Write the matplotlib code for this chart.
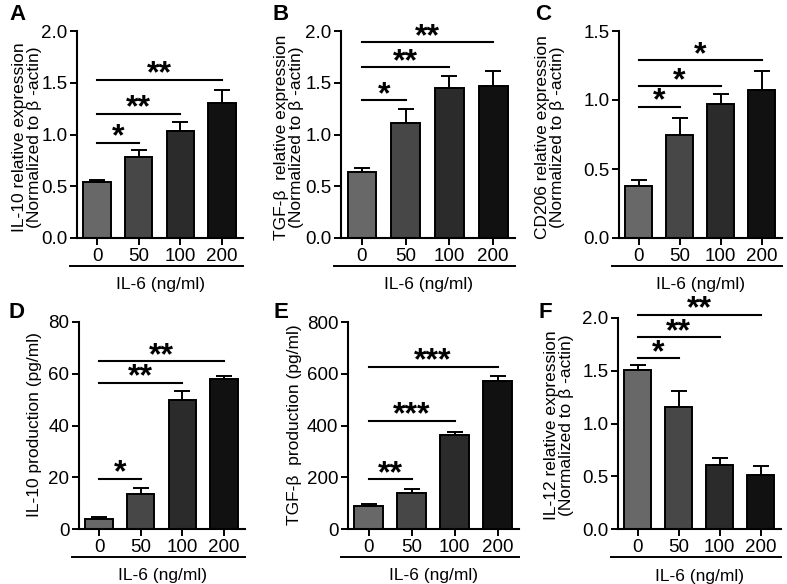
import matplotlib
matplotlib.use("Agg")
import matplotlib.pyplot as plt
from matplotlib.ticker import FormatStrFormatter

plt.rcParams["font.family"] = ["Liberation Sans", "DejaVu Sans"]

doses = ["0", "50", "100", "200"]
bar_colors = ["#686868", "#474747", "#2b2b2b", "#111111"]

# panel A: IL-10 mRNA
a_mean = [0.54, 0.78, 1.03, 1.30]
a_err = [0.02, 0.07, 0.09, 0.13]
a_sig = [(0, 1, 0.92, "*"), (0, 2, 1.20, "**"), (0, 3, 1.53, "**")]

# panel B: TGF-b mRNA
b_mean = [0.64, 1.11, 1.45, 1.47]
b_err = [0.04, 0.14, 0.12, 0.14]
b_sig = [(0, 1, 1.33, "*"), (0, 2, 1.65, "**"), (0, 3, 1.89, "**")]

# panel C: CD206 mRNA
c_mean = [0.38, 0.75, 0.97, 1.07]
c_err = [0.04, 0.12, 0.07, 0.14]
c_sig = [(0, 1, 0.95, "*"), (0, 2, 1.10, "*"), (0, 3, 1.29, "*")]

# panel D: IL-10 protein
d_mean = [3.7, 13.7, 50.0, 58.0]
d_err = [0.9, 2.2, 3.5, 1.1]
d_sig = [(0, 1, 19.4, "*"), (0, 2, 56.5, "**"), (0, 3, 64.8, "**")]

# panel E: TGF-b protein
e_mean = [89, 141, 363, 572]
e_err = [6, 14, 12, 19]
e_sig = [(0, 1, 192, "**"), (0, 2, 418, "***"), (0, 3, 627, "***")]

# panel F: IL-12 mRNA
f_mean = [1.51, 1.16, 0.61, 0.51]
f_err = [0.04, 0.15, 0.06, 0.09]
f_sig = [(0, 1, 1.62, "*"), (0, 2, 1.82, "**"), (0, 3, 2.03, "**")]

W, H = 787, 584
fig = plt.figure(figsize=(W / 100, H / 100), dpi=100)


def px_axes(l, r, t, b):
    return fig.add_axes([l / W, 1 - b / H, (r - l) / W, (b - t) / H])


def panel(ax, mean, err, sig, ymax, step, fmt, letter, lpos, ylab, ypos):
    x = range(len(mean))
    ax.bar(x, mean, width=0.66, color=bar_colors, edgecolor="black", linewidth=1.4, zorder=2)
    ax.errorbar(x, mean, yerr=[[0] * len(err), err], fmt="none", ecolor="black",
                elinewidth=1.4, capsize=6, capthick=1.4, zorder=1)
    ax.set_xlim(-0.48, 3.5)
    ax.set_ylim(0, ymax)
    ticks = [i * step for i in range(int(round(ymax / step)) + 1)]
    ax.set_yticks(ticks)
    ax.yaxis.set_major_formatter(FormatStrFormatter(fmt))
    ax.set_xticks(list(x))
    ax.set_xticklabels(doses)
    ax.tick_params(labelsize=13.5, width=1.4, length=5, pad=2)
    for s in ["top", "right"]:
        ax.spines[s].set_visible(False)
    for s in ["left", "bottom"]:
        ax.spines[s].set_linewidth(1.5)

    for i, j, h, stars in sig:
        ax.plot([i, j], [h, h], color="black", lw=1.5, clip_on=False)
        ax.annotate(stars, ((i + j) / 2, h), xytext=(0, -2), textcoords="offset points",
                    ha="center", va="baseline", fontsize=23, fontweight="bold",
                    annotation_clip=False)

    # group underline and label
    ax.plot([-0.64, 3.5], [-0.135, -0.135], color="black", lw=1.4, clip_on=False,
            transform=ax.get_xaxis_transform())
    ax.text(0.5, -0.225, "IL-6 (ng/ml)", transform=ax.transAxes, ha="center",
            va="center", fontsize=12.5)

    fig.text(lpos[0] / W, 1 - lpos[1] / H, letter, fontsize=16, fontweight="bold",
             ha="center", va="center")
    fig.text(ypos[0] / W, 1 - ypos[1] / H, ylab, rotation=90, ha="center",
             va="center", fontsize=12.5, linespacing=1.05)


axA = px_axes(77, 243, 31, 238)
axB = px_axes(341, 515, 31, 238)
axC = px_axes(619, 782, 31, 238)
axD = px_axes(79, 245, 322, 529)
axE = px_axes(348, 519, 322, 529)
axF = px_axes(618, 781, 318, 529)

panel(axA, a_mean, a_err, a_sig, 2.0, 0.5, "%.1f", "A", (17, 14),
      "IL-10 relative expression\n(Normalized to β -actin)", (27, 137))
panel(axB, b_mean, b_err, b_sig, 2.0, 0.5, "%.1f", "B", (281, 14),
      "TGF-β  relative expression\n(Normalized to β -actin)", (289, 137))
panel(axC, c_mean, c_err, c_sig, 1.5, 0.5, "%.1f", "C", (543, 14),
      "CD206 relative expression\n(Normalized to β -actin)", (550, 137))
panel(axD, d_mean, d_err, d_sig, 80, 20, "%d", "D", (17, 313),
      "IL-10 production (pg/ml)", (35, 425))
panel(axE, e_mean, e_err, e_sig, 800, 200, "%d", "E", (281, 313),
      "TGF-β  production (pg/ml)", (295, 425))
panel(axF, f_mean, f_err, f_sig, 2.0, 0.5, "%.1f", "F", (545, 313),
      "IL-12 relative expression\n(Normalized to β -actin)", (559, 425))

fig.savefig("out.png", dpi=100)
